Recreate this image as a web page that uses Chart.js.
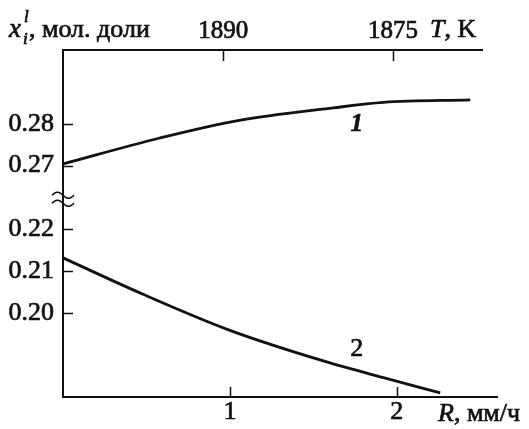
<!DOCTYPE html>
<html>
<head>
<meta charset="utf-8">
<script src="https://cdn.jsdelivr.net/npm/chart.js@4.4.1/dist/chart.umd.min.js"></script>
<style>
  body { margin: 0; background: #fff; }
  canvas { display: block; }
</style>
</head>
<body>
<canvas id="chart" width="529" height="429"></canvas>
<script>
// R, мм/ч и мольные доли для кривых 1 и 2
const rate1 = [0, 0.58, 1.04, 1.62, 1.92, 2.44];
const frac1 = [0.2704, 0.2766, 0.2807, 0.2838, 0.2851, 0.2857];
const rate2 = [0, 0.48, 1.0, 1.56, 1.92, 2.26];
const frac2 = [0.2132, 0.2045, 0.1959, 0.1886, 0.1846, 0.1810];

const rTicks = [1, 2];
const tTicks = [1890, 1875];
const yTickLabels = ['0.20', '0.21', '0.22', '0.27', '0.28'];

// разрыв оси ординат: всё, что выше 0.225, сдвигается вниз
const BREAK_AT = 0.225;
const BREAK_SHIFT = 0.0348;
function toAxis(v) { return v > BREAK_AT ? v - BREAK_SHIFT : v; }

const INK = '#111';
const SERIF = '"Liberation Serif", "DejaVu Serif", serif';
const THICK = 0.7; // лёгкая обводка, чтобы шрифт выглядел плотнее

function text(ctx, s, x, y) {
  ctx.fillText(s, x, y);
  ctx.strokeText(s, x, y);
}

const frame = {
  id: 'frame',
  afterDraw(chart) {
    const { ctx, chartArea: a, scales } = chart;
    const x = scales.x, y = scales.y, t = scales.t;
    ctx.save();
    ctx.strokeStyle = INK;

    // верхняя ось короче нижней
    ctx.lineWidth = 2;
    ctx.beginPath();
    ctx.moveTo(a.left, a.top);
    ctx.lineTo(a.right - 14, a.top);
    ctx.stroke();

    // штрихи внутрь поля
    ctx.lineWidth = 1.5;
    ctx.beginPath();
    y.ticks.forEach(tk => {
      const py = Math.round(y.getPixelForValue(tk.value)) + 0.5;
      ctx.moveTo(a.left, py); ctx.lineTo(a.left + 10, py);
    });
    x.ticks.forEach(tk => {
      const px = Math.round(x.getPixelForValue(tk.value)) + 0.5;
      ctx.moveTo(px, a.bottom); ctx.lineTo(px, a.bottom - 10);
    });
    t.ticks.forEach(tk => {
      const px = Math.round(t.getPixelForValue(tk.value)) + 0.5;
      ctx.moveTo(px, a.top); ctx.lineTo(px, a.top + 11);
    });
    ctx.stroke();

    // значок разрыва
    const by = y.getPixelForValue(0.2272);
    ctx.lineWidth = 1.6;
    [-4, 4].forEach(dy => {
      ctx.beginPath();
      for (let i = 0; i <= 22; i++) {
        const px = a.left - 11 + i;
        const py = by + dy - 3 * Math.sin(i / 22 * 2 * Math.PI);
        if (i === 0) ctx.moveTo(px, py); else ctx.lineTo(px, py);
      }
      ctx.stroke();
    });

    ctx.fillStyle = INK;
    ctx.lineWidth = THICK;
    ctx.textBaseline = 'alphabetic';
    ctx.textAlign = 'left';

    // подпись оси ординат
    ctx.font = 'italic 27px ' + SERIF;
    text(ctx, 'x', 9, 37);
    ctx.font = 'italic 17px ' + SERIF;
    text(ctx, 'l', 24, 22);
    text(ctx, 'i', 23, 44);
    ctx.font = '26px ' + SERIF;
    text(ctx, ', мол. доли', 29, 37);

    // T, K
    ctx.font = 'italic 26px ' + SERIF;
    text(ctx, 'T', 430, 37);
    let w = ctx.measureText('T').width;
    ctx.font = '26px ' + SERIF;
    text(ctx, ', K', 430 + w, 37);

    // R, мм/ч
    ctx.font = 'italic 26px ' + SERIF;
    text(ctx, 'R', 438, 421);
    w = ctx.measureText('R').width;
    ctx.font = '26px ' + SERIF;
    text(ctx, ', мм/ч', 438 + w, 421);

    // номера кривых
    ctx.textAlign = 'center';
    ctx.textBaseline = 'middle';
    ctx.font = 'italic bold 25px ' + SERIF;
    text(ctx, '1', x.getPixelForValue(1.76), y.getPixelForValue(toAxis(0.2797)));
    ctx.font = '26px ' + SERIF;
    text(ctx, '2', x.getPixelForValue(1.76), y.getPixelForValue(toAxis(0.1914)));
    ctx.restore();
  }
};

const tickFont = { family: SERIF, size: 26 };

new Chart(document.getElementById('chart'), {
  type: 'line',
  data: {
    datasets: [
      { data: rate1.map((r, i) => ({ x: r, y: toAxis(frac1[i]) })) },
      { data: rate2.map((r, i) => ({ x: r, y: toAxis(frac2[i]) })) }
    ]
  },
  options: {
    responsive: false,
    animation: false,
    layout: { padding: { left: 0, top: 0, right: 32, bottom: 0 } },
    elements: {
      line: { borderColor: INK, borderWidth: 2.8, cubicInterpolationMode: 'monotone', fill: false },
      point: { radius: 0 }
    },
    plugins: { legend: { display: false }, tooltip: { enabled: false } },
    scales: {
      x: {
        type: 'linear',
        position: 'bottom',
        min: 0,
        max: 2.6,
        afterBuildTicks: s => { s.ticks = rTicks.map(v => ({ value: v })); },
        afterFit: s => { s.height = 32; },
        grid: { display: false, drawTicks: false },
        border: { display: true, color: INK, width: 2 },
        ticks: {
          color: INK, font: tickFont, padding: 0,
          textStrokeColor: INK, textStrokeWidth: THICK,
          callback: v => String(v)
        }
      },
      t: {
        type: 'linear',
        position: 'top',
        reverse: true,
        min: 1865.82,
        max: 1904.15,
        afterBuildTicks: s => { s.ticks = tTicks.map(v => ({ value: v })); },
        afterFit: s => { s.height = 50; },
        grid: { display: false, drawTicks: false },
        border: { display: false },
        ticks: {
          color: INK, font: { family: SERIF, size: 25 }, padding: 4,
          textStrokeColor: INK, textStrokeWidth: THICK,
          callback: v => String(v)
        }
      },
      y: {
        type: 'linear',
        min: 0.18,
        max: 0.2628,
        afterBuildTicks: s => {
          s.ticks = yTickLabels.map(l => ({ value: toAxis(parseFloat(l)) }));
        },
        afterFit: s => { s.width = 63; },
        grid: { display: false, drawTicks: false },
        border: { display: true, color: INK, width: 2 },
        ticks: {
          color: INK,
          font: tickFont,
          padding: 9,
          textStrokeColor: INK,
          textStrokeWidth: THICK,
          callback: (v, i) => yTickLabels[i]
        }
      }
    }
  },
  plugins: [frame]
});
</script>
</body>
</html>
